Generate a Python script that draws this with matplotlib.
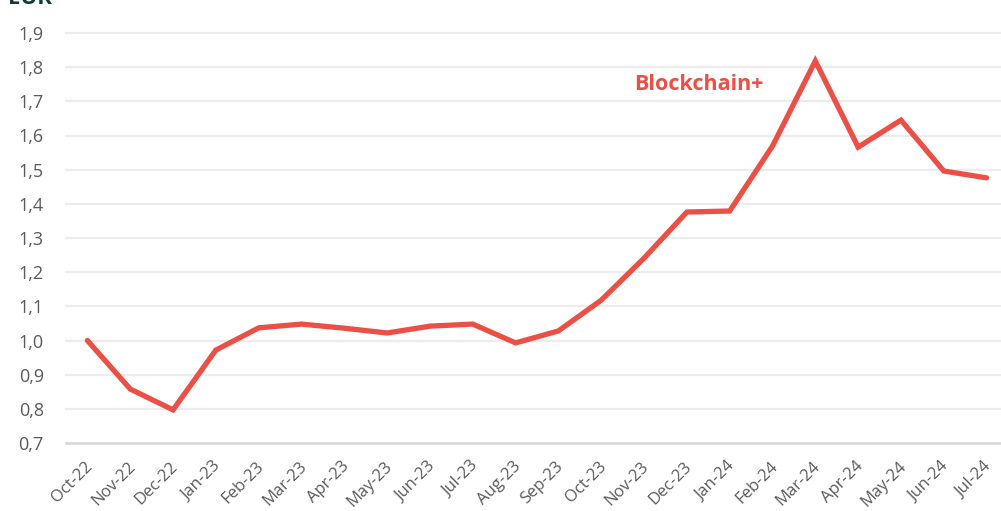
import matplotlib
matplotlib.use("Agg")
import matplotlib.pyplot as plt
import matplotlib.transforms as mtrans
import numpy as np

months = ["Oct-22", "Nov-22", "Dec-22", "Jan-23", "Feb-23", "Mar-23", "Apr-23", "May-23",
          "Jun-23", "Jul-23", "Aug-23", "Sep-23", "Oct-23", "Nov-23", "Dec-23", "Jan-24",
          "Feb-24", "Mar-24", "Apr-24", "May-24", "Jun-24", "Jul-24"]
blockchain = [1.000, 0.858, 0.797, 0.972, 1.037, 1.048, 1.036, 1.022, 1.042, 1.048, 0.993,
              1.028, 1.118, 1.241, 1.376, 1.379, 1.569, 1.818, 1.566, 1.645, 1.496, 1.476]
yticks = [0.7, 0.8, 0.9, 1.0, 1.1, 1.2, 1.3, 1.4, 1.5, 1.6, 1.7, 1.8, 1.9]
series_label = "Blockchain+"

W, H = 1001, 511
fig = plt.figure(figsize=(W / 100, H / 100), dpi=100)
left, right, top, bottom = 66, 1008, 33, 443
ax = fig.add_axes([left / W, 1 - bottom / H, (right - left) / W, (bottom - top) / H])

red = "#EB4F45"
x = np.arange(len(months))
ax.plot(x, blockchain, color=red, lw=3.8, solid_joinstyle="miter", solid_capstyle="round", zorder=3)

ax.set_xlim(-0.5, len(months) - 0.5)
ax.set_ylim(0.7, 1.9)
ax.set_yticks(yticks)
ax.set_yticklabels([f"{v:.1f}".replace(".", ",") for v in yticks],
                   fontsize=13, color="#5a5a5a", family="Open Sans")
ax.set_xticks(x)
ax.set_xticklabels(months, rotation=45, ha="right", va="top", rotation_mode="anchor",
                   fontsize=12, color="#5a5a5a", family="Open Sans")
ax.tick_params(axis="both", length=0)
ax.tick_params(axis="y", pad=16)
ax.tick_params(axis="x", pad=11)
off = mtrans.ScaledTranslation(-3 / 100, 0, fig.dpi_scale_trans)
for lab in ax.get_xticklabels():
    lab.set_transform(lab.get_transform() + off)

for v in yticks[1:]:
    ax.axhline(v, color="#ececec", lw=1.6, zorder=1, clip_on=False)
for s in ["top", "right", "left"]:
    ax.spines[s].set_visible(False)
ax.spines["bottom"].set_color("#d6d6d6")
ax.spines["bottom"].set_linewidth(1.8)

ax.text(14.28, 1.748, series_label, color=red, fontsize=15.5, fontweight="bold",
        family="Open Sans", ha="center", va="center")

fig.text(8 / W, 1 - 4 / H, "EUR", color="#0F3B3A", fontsize=16, fontweight="bold",
         family="Open Sans", ha="left", va="baseline")

fig.savefig("out.png", dpi=100)
